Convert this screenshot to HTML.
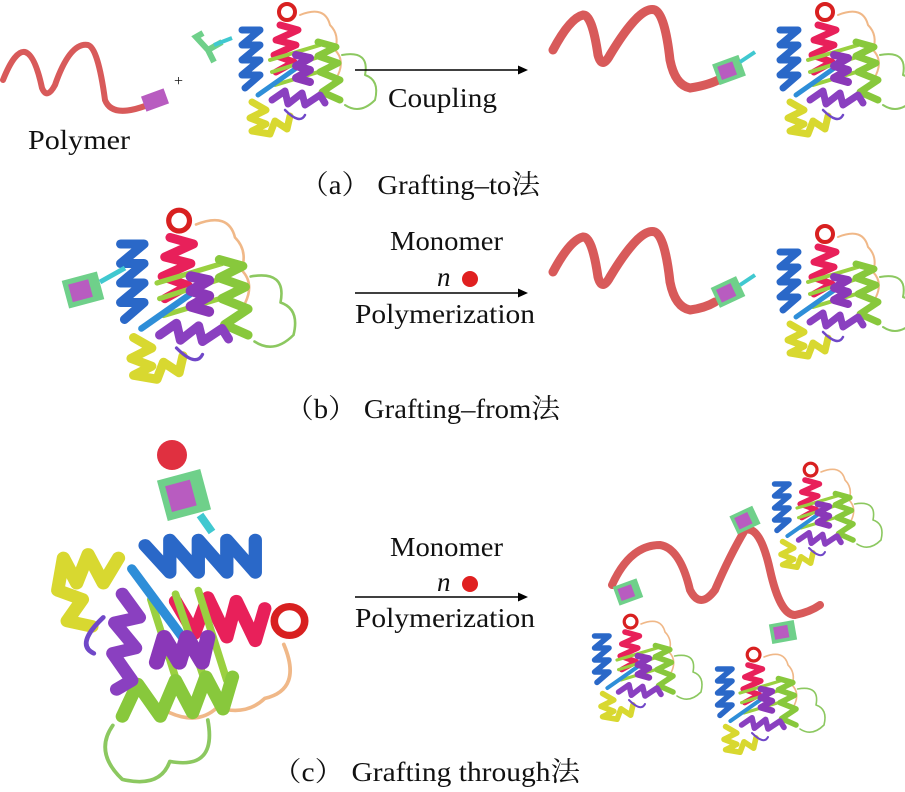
<!DOCTYPE html>
<html><head><meta charset="utf-8"><style>
html,body{margin:0;padding:0;background:#fff;}
svg{display:block;}
text{font-family:"Liberation Serif","Noto Serif CJK SC",serif;fill:#111;}
</style></head><body>
<svg width="905" height="792" viewBox="0 0 905 792" xmlns="http://www.w3.org/2000/svg">
<defs>
<g id="prot" fill="none" stroke-linecap="round" stroke-linejoin="round">
  <path d="M70,15 Q95,5 100,25 Q110,35 105,50 Q115,60 108,75" stroke="#f0b888" stroke-width="2"/>
  <path d="M112,55 Q140,50 135,75 Q150,80 145,100 Q130,115 115,105" stroke="#8cc860" stroke-width="2"/>
  <path d="M12,30 L30,30 L12,45 L30,45 L12,60 L30,60 L12,75 L30,75 L15,88" stroke="#2a68c8" stroke-width="7"/>
  <circle cx="57" cy="12" r="8" stroke="#d82020" stroke-width="4"/>
  <path d="M50,25 L68,30 L46,40 L66,45 L44,55 L64,62 L46,72" stroke="#e8205a" stroke-width="7"/>
  <path d="M40,60 L90,45 M42,72 L95,55 M45,85 L95,70" stroke="#9ad040" stroke-width="4"/>
  <path d="M28,95 L75,62" stroke="#2e8ed8" stroke-width="5"/>
  <path d="M88,42 L106,47 L88,56 L108,63 L90,72 L110,80 L92,92 L110,100" stroke="#88c83c" stroke-width="7"/>
  <path d="M66,55 L80,58 L66,66 L80,70 L66,78 L80,82" stroke="#8a38b8" stroke-width="8"/>
  <path d="M42,100 L55,91 L58,104 L72,93 L75,105 L90,95 L95,103" stroke="#8a40c0" stroke-width="7"/>
  <path d="M22,102 L36,110 L20,118 L36,124 L22,131 L40,134 L45,121 L57,129 L60,116" stroke="#d8d830" stroke-width="7"/>
  <path d="M55,110 Q70,125 75,115" stroke="#7048c8" stroke-width="2.5"/>
</g>
<g id="link">
  <rect x="-14" y="-11" width="28" height="22" fill="#6fd08a"/>
  <rect x="-10" y="-7" width="16" height="14" fill="#b85cc0"/>
</g>
</defs>

<!-- (a) -->
<path d="M3,80 Q15,50 25,52 Q35,55 42,88 Q47,100 55,85 Q70,42 88,45 Q98,48 105,100 Q112,118 145,106" fill="none" stroke="#d85a5a" stroke-width="6" stroke-linecap="round"/>
<rect x="143" y="92" width="24" height="16" fill="#b85cc0" transform="rotate(-20 155 100)"/>
<text x="174" y="86" font-size="16">+</text>
<path d="M222,42 L208,50 L214,62 M208,50 L196,37 L203,33" fill="none" stroke="#6fd08a" stroke-width="6"/>
<path d="M214,45 L232,38" stroke="#40c8d0" stroke-width="4"/>
<use href="#prot" x="230" y="0"/>
<line x1="355" y1="70" x2="520" y2="70" stroke="#000" stroke-width="1.5"/>
<path d="M528,70 L518,65.5 L518,74.5 Z" fill="#000"/>
<text x="388" y="107" font-size="27" textLength="109" lengthAdjust="spacingAndGlyphs">Coupling</text>
<text x="28" y="149" font-size="27" textLength="102" lengthAdjust="spacingAndGlyphs">Polymer</text>
<path d="M553,50 Q570,18 583,15 Q592,14 598,55 Q602,70 610,55 Q640,5 655,10 Q665,15 670,60 Q675,85 690,88 Q710,85 722,78" fill="none" stroke="#d85a5a" stroke-width="9" stroke-linecap="round"/>
<use href="#link" transform="translate(729,70) rotate(-20)"/>
<path d="M740,62 L755,52" stroke="#40c8d0" stroke-width="4"/>
<use href="#prot" x="768" y="0"/>
<text x="300" y="194" font-size="27" textLength="240" lengthAdjust="spacingAndGlyphs">（a） Grafting–to法</text>

<!-- (b) -->
<use href="#prot" transform="translate(105,205) scale(1.3)"/>
<use href="#link" transform="translate(83,290) rotate(-15) scale(1.3)"/>
<path d="M100,282 L125,268" stroke="#40c8d0" stroke-width="5"/>
<text x="390" y="250" font-size="27" textLength="113" lengthAdjust="spacingAndGlyphs">Monomer</text>
<text x="437" y="286" font-size="27" font-style="italic">n</text>
<circle cx="470" cy="279" r="8" fill="#e02020"/>
<line x1="355" y1="293" x2="520" y2="293" stroke="#000" stroke-width="1.5"/>
<path d="M528,293 L518,288.5 L518,297.5 Z" fill="#000"/>
<text x="355" y="323" font-size="27" textLength="180" lengthAdjust="spacingAndGlyphs">Polymerization</text>
<path d="M553,272 Q570,240 583,237 Q592,236 598,277 Q602,292 610,277 Q640,227 655,232 Q665,237 670,282 Q675,307 690,310 Q705,308 715,302" fill="none" stroke="#d85a5a" stroke-width="9" stroke-linecap="round"/>
<use href="#link" transform="translate(728,292) rotate(-25)"/>
<path d="M740,285 L755,275" stroke="#40c8d0" stroke-width="4"/>
<use href="#prot" x="768" y="222"/>
<text x="285" y="418" font-size="27" textLength="275" lengthAdjust="spacingAndGlyphs">（b） Grafting–from法</text>

<!-- (c) -->
<use href="#prot" transform="translate(185,630) rotate(90) scale(1.8,1.9) translate(-62,-67)"/>
<path d="M200,515 L212,532" stroke="#40c8d0" stroke-width="8"/>
<use href="#link" transform="translate(184,495) rotate(-15) scale(1.6,1.9)"/>
<circle cx="172" cy="455" r="15" fill="#e03040"/>
<text x="390" y="556" font-size="27" textLength="113" lengthAdjust="spacingAndGlyphs">Monomer</text>
<text x="437" y="591" font-size="27" font-style="italic">n</text>
<circle cx="470" cy="584" r="8" fill="#e02020"/>
<line x1="355" y1="597" x2="520" y2="597" stroke="#000" stroke-width="1.5"/>
<path d="M528,597 L518,592.5 L518,601.5 Z" fill="#000"/>
<text x="355" y="627" font-size="27" textLength="180" lengthAdjust="spacingAndGlyphs">Polymerization</text>
<path d="M612,585 Q630,545 660,545 Q680,548 690,590 Q700,610 715,590 Q730,555 745,530 Q760,525 770,570 Q780,615 795,615 Q810,612 820,605" fill="none" stroke="#d85a5a" stroke-width="8" stroke-linecap="round"/>
<use href="#link" transform="translate(628,592) rotate(-20) scale(0.9)"/>
<use href="#link" transform="translate(745,520) rotate(-25) scale(0.9)"/>
<use href="#link" transform="translate(783,632) rotate(-10) scale(0.9)"/>
<use href="#prot" transform="translate(765,460) scale(0.8)"/>
<use href="#prot" transform="translate(585,612) scale(0.8)"/>
<use href="#prot" transform="translate(708,645) scale(0.8)"/>
<text x="272" y="781" font-size="27" textLength="308" lengthAdjust="spacingAndGlyphs">（c） Grafting through法</text>
</svg>
</body></html>
